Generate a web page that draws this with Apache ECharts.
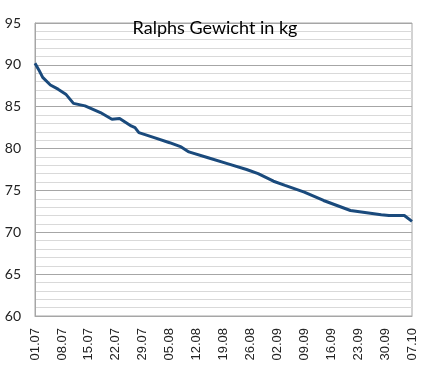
<!DOCTYPE html>
<html>
<head>
<meta charset="utf-8">
<script src="https://cdn.jsdelivr.net/npm/echarts@6/dist/echarts.min.js"></script>
<style>html,body{margin:0;padding:0;background:#fff}#c{width:427px;height:370px}</style>
</head>
<body>
<div id="c"></div>
<script>
// Day offset since 01.07 and weight (kg)
const dayOffsets = [0, 1, 2, 4, 6, 8, 10, 13, 17, 20, 22, 25, 26, 27, 31, 35, 38, 40, 45, 50, 55, 58, 62, 65, 70, 75, 82, 90, 92, 96, 98];
const weights    = [90.2, 89.4, 88.5, 87.6, 87.1, 86.5, 85.4, 85.1, 84.3, 83.5, 83.6, 82.7, 82.5, 81.9, 81.3, 80.7, 80.2, 79.6, 78.9, 78.2, 77.5, 77.0, 76.1, 75.6, 74.8, 73.8, 72.6, 72.1, 72.0, 72.0, 71.3];
const tickLabels = ["01.07","08.07","15.07","22.07","29.07","05.08","12.08","19.08","26.08","02.09","09.09","16.09","23.09","30.09","07.10"];
const titleText = "Ralphs Gewicht in kg";

const chart = echarts.init(document.getElementById('c'));
chart.setOption({
  animation: false,
  title: {
    text: titleText, left: 210, top: 14, textAlign: 'center',
    textStyle: {fontFamily: 'Lato', fontSize: 18, fontWeight: 'normal', color: '#000'}
  },
  grid: {left: 35, right: 15, top: 23, bottom: 54, show: true, borderColor: '#a6a6a6', borderWidth: 1, backgroundColor: 'transparent'},
  xAxis: {
    type: 'value', min: 0, max: 98, interval: 7,
    axisLine: {show: true, lineStyle: {color: '#a6a6a6'}},
    axisTick: {show: false},
    splitLine: {show: false},
    axisLabel: {
      rotate: 90, margin: 12, fontFamily: 'Liberation Sans', fontSize: 13, color: '#222',
      formatter: v => tickLabels[Math.round(v / 7)] || ''
    }
  },
  yAxis: {
    type: 'value', min: 60, max: 95, interval: 5,
    axisLine: {show: true, lineStyle: {color: '#a6a6a6'}},
    axisTick: {show: false},
    splitLine: {lineStyle: {color: '#a6a6a6', width: 1}},
    minorTick: {show: false, splitNumber: 5},
    minorSplitLine: {show: true, lineStyle: {color: '#d9d9d9', width: 1}},
    axisLabel: {margin: 14, fontFamily: 'Lato', fontSize: 14, color: '#222'}
  },
  series: [{
    type: 'line',
    data: dayOffsets.map((d, i) => [d, weights[i]]),
    showSymbol: false,
    lineStyle: {color: '#1a4a7c', width: 3},
    z: 5
  }]
});
</script>
</body>
</html>
